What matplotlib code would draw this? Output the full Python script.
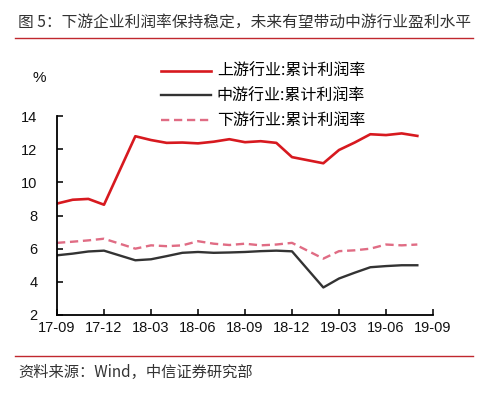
import matplotlib
matplotlib.use("Agg")
import matplotlib.pyplot as plt
import numpy as np

plt.rcParams['font.family'] = ['Liberation Sans', 'Noto Sans CJK SC', 'DejaVu Sans']

# months counted from 2017-09 (no January figures)
months = [0, 1, 2, 3, 5, 6, 7, 8, 9, 10, 11, 12, 13, 14, 15,
          17, 18, 19, 20, 21, 22, 23]
upstream = [8.72, 8.95, 9.0, 8.65, 12.78, 12.55, 12.38, 12.4, 12.35, 12.45, 12.6, 12.42,
            12.48, 12.38, 11.52, 11.15, 11.95, 12.4, 12.9, 12.85, 12.95, 12.8]
midstream = [5.6, 5.7, 5.83, 5.88, 5.3, 5.36, 5.55, 5.75, 5.8, 5.75, 5.77, 5.8,
             5.85, 5.88, 5.84, 3.66, 4.2, 4.55, 4.88, 4.95, 5.0, 5.0]
downstream = [6.35, 6.42, 6.5, 6.6, 6.0, 6.2, 6.15, 6.2, 6.45, 6.3, 6.22, 6.3,
              6.2, 6.25, 6.35, 5.4, 5.85, 5.9, 6.0, 6.25, 6.2, 6.25]
tick_pos = [0, 3, 6, 9, 12, 15, 18, 21, 24]
tick_labels = ['17-09', '17-12', '18-03', '18-06', '18-09', '18-12', '19-03', '19-06', '19-09']
names = ['上游行业:累计利润率', '中游行业:累计利润率', '下游行业:累计利润率']

fig = plt.figure(figsize=(5, 4), dpi=100)
ax = fig.add_axes([0.114, 0.2125, 0.752, 0.4975])

ax.plot(months, upstream, color='#D7191F', lw=1.9, label=names[0])
ax.plot(months, midstream, color='#333333', lw=1.7, label=names[1])
ax.plot(months, downstream, color='#E06C84', lw=1.7, dashes=(3.5, 2), label=names[2])

ax.set_xlim(0, 24)
ax.set_ylim(2, 14)
ax.set_yticks([2, 4, 6, 8, 10, 12, 14])
ax.set_xticks(tick_pos)
ax.set_xticklabels(tick_labels)
for s in ['top', 'right']:
    ax.spines[s].set_visible(False)
for s in ['left', 'bottom']:
    ax.spines[s].set_linewidth(1.3)
ax.tick_params(axis='both', direction='in', length=4, width=1.2, labelsize=10.5, pad=4,
               colors='#111111')
ax.tick_params(axis='y', pad=14)

ax.legend(loc='upper left', bbox_to_anchor=(0.322, 0.842), bbox_transform=fig.transFigure,
          frameon=False, handlelength=3.1, handletextpad=0.4,
          labelspacing=0.48, borderaxespad=0, borderpad=0,
          prop={'family': ['Noto Sans CJK SC'], 'size': 11.5})

fig.text(0.078, 0.805, '%', fontsize=11, ha='center', va='center', color='#111111')

fig.text(0.036, 0.945, '图 5：下游企业利润率保持稳定，未来有望带动中游行业盈利水平',
         fontsize=11.3, family=['Noto Sans CJK SC'], color='#333333', va='center')
fig.add_artist(plt.Line2D([0.03, 0.946], [0.905, 0.905], color='#C0282E', lw=1.0))
fig.add_artist(plt.Line2D([0.03, 0.946], [0.11, 0.11], color='#C0282E', lw=1.0))
fig.text(0.036, 0.07, '资料来源：Wind，中信证券研究部',
         fontsize=11, family=['Noto Sans CJK SC'], color='#333333', va='center')

fig.savefig('out.png', dpi=100)
